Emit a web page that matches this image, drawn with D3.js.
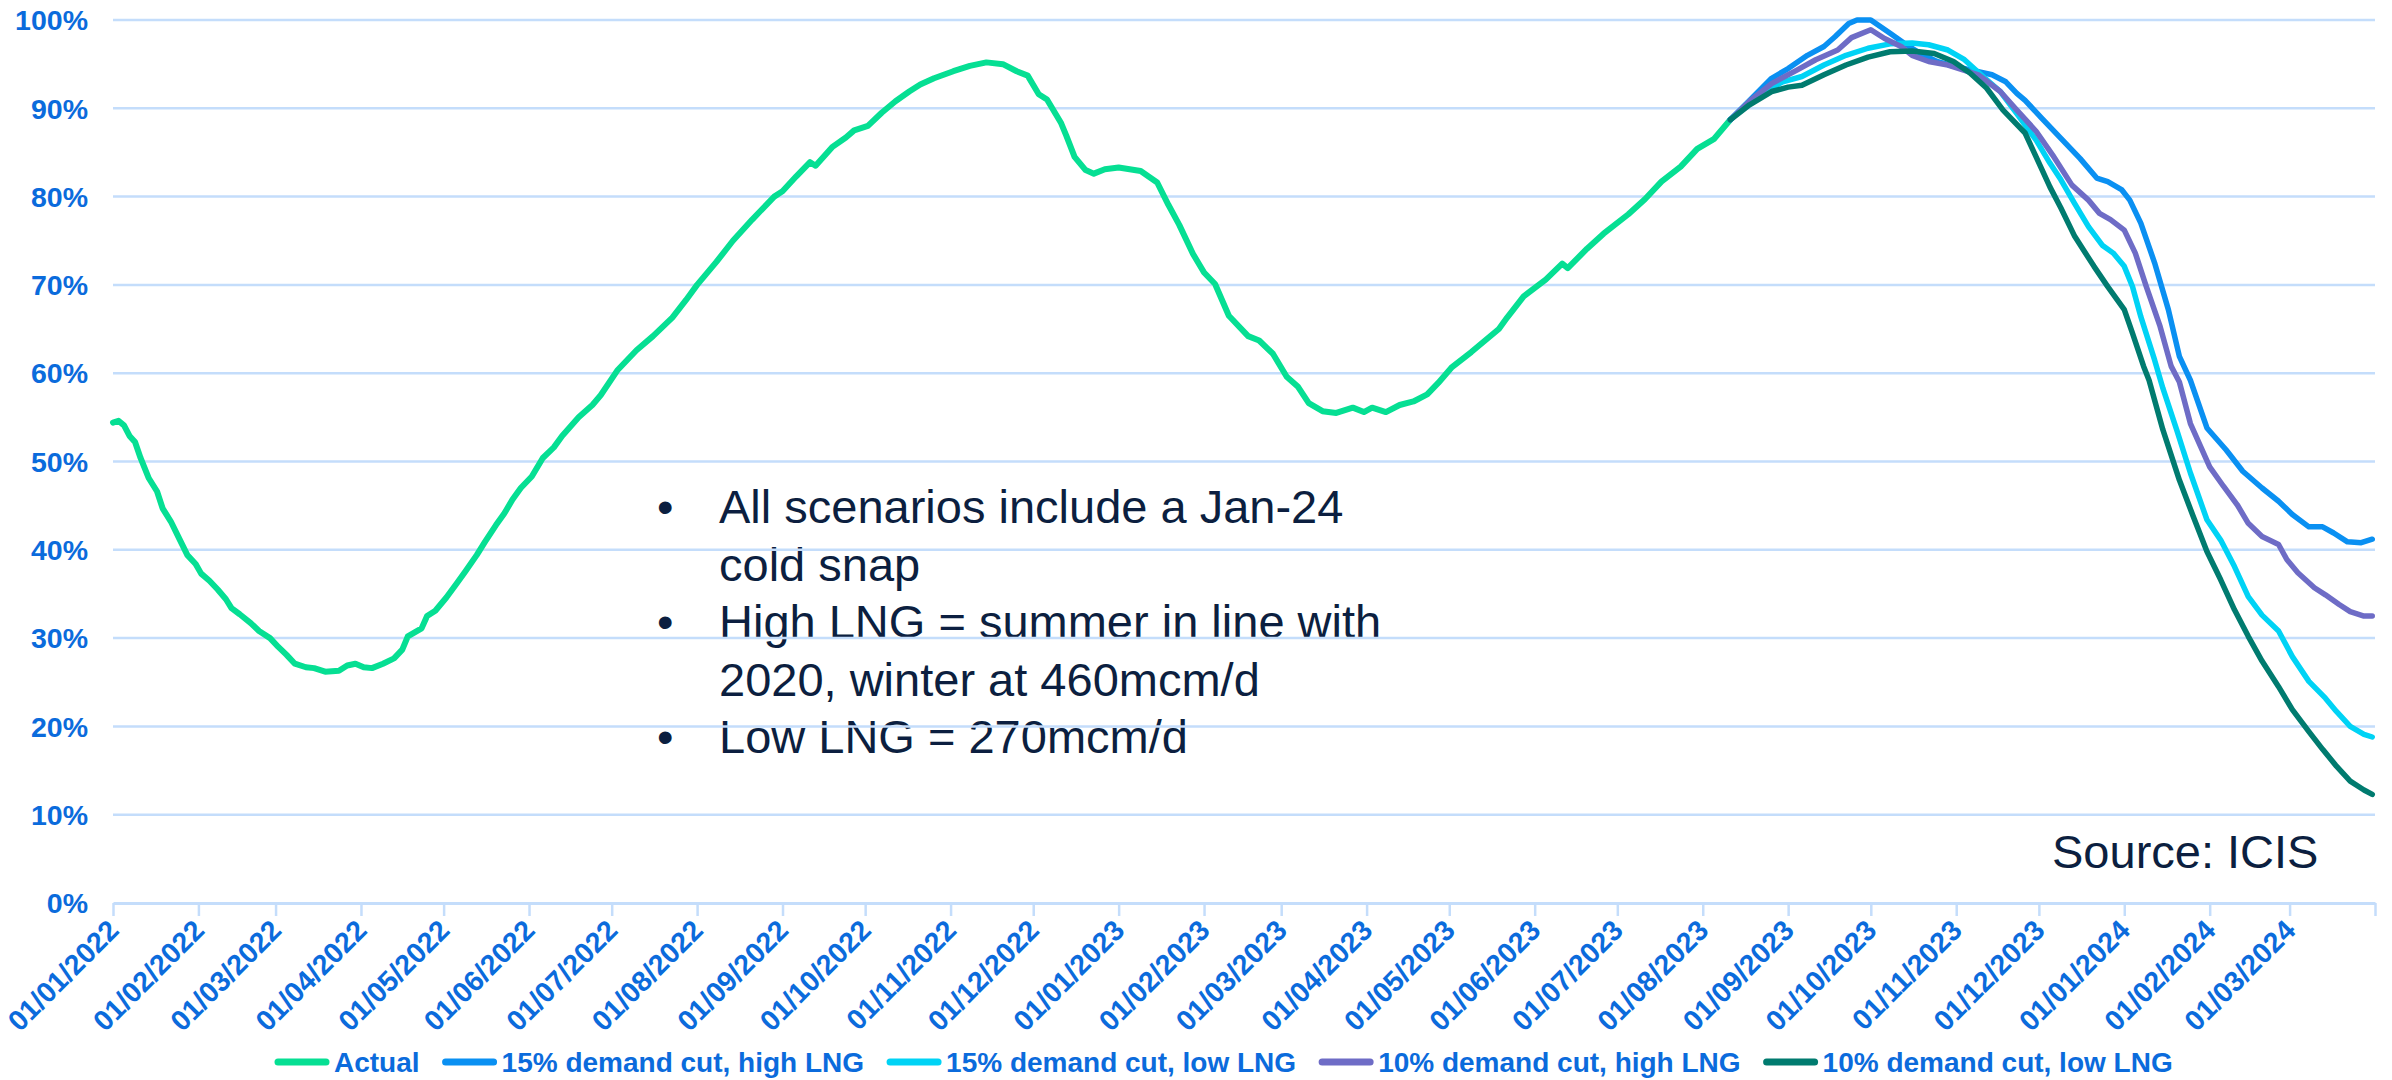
<!DOCTYPE html>
<html>
<head>
<meta charset="utf-8">
<script src="https://cdn.jsdelivr.net/npm/d3@7"></script>
<style>
  html, body { margin: 0; padding: 0; background: #ffffff; }
  svg { display: block; }
  text { font-family: "Liberation Sans", Arial, Helvetica, sans-serif; }
</style>
</head>
<body>
<svg id="chart" width="2392" height="1080"></svg>
<script>
// Storage fill level, % of capacity. Each point: [days since 01/01/2022, percent]
const actual = [
  [0,54.4],[2,54.6],[4,54.1],[6,52.9],[8,52.2],[10,50.4],[13,48.1],[16,46.6],[18,44.7],[21,43.2],
  [24,41.3],[27,39.4],[30,38.4],[32,37.3],[35,36.5],[38,35.5],[41,34.4],[43,33.4],[46,32.7],[50,31.7],
  [53,30.8],[57,30.0],[60,29.0],[63,28.1],[66,27.1],[70,26.7],[73,26.6],[77,26.2],[82,26.3],[85,26.9],
  [88,27.1],[91,26.7],[94,26.6],[98,27.1],[102,27.7],[105,28.7],[107,30.2],[112,31.1],[114,32.5],[117,33.1],
  [121,34.6],[125,36.3],[128,37.6],[132,39.4],[135,40.9],[139,42.8],[142,44.1],[145,45.7],[148,47.0],[152,48.3],
  [156,50.4],[160,51.6],[163,52.9],[169,55.0],[174,56.4],[177,57.5],[183,60.3],[190,62.6],[196,64.2],[203,66.3],
  [208,68.3],[212,70.0],[219,72.6],[225,75.0],[232,77.4],[240,80.0],[243,80.6],[248,82.3],[253,83.9],[255,83.5],
  [261,85.6],[266,86.7],[269,87.5],[274,88.0],[279,89.5],[284,90.8],[289,91.9],[293,92.7],[298,93.4],[305,94.2],
  [311,94.8],[317,95.2],[323,95.0],[328,94.2],[332,93.7],[336,91.6],[339,91.0],[344,88.4],[346,86.9],[349,84.5],
  [353,83.0],[356,82.6],[360,83.1],[365,83.3],[373,82.9],[379,81.6],[383,79.1],[387,76.8],[392,73.5],[396,71.4],
  [400,70.1],[405,66.5],[412,64.2],[416,63.7],[421,62.2],[426,59.6],[430,58.5],[434,56.6],[439,55.7],[444,55.5],
  [450,56.1],[454,55.6],[457,56.1],[462,55.6],[467,56.4],[472,56.8],[477,57.6],[481,58.9],[486,60.7],[493,62.4],
  [498,63.7],[503,65.0],[506,66.3],[512,68.7],[520,70.6],[526,72.4],[528,71.9],[535,74.1],[541,75.8],[550,78.0],
  [556,79.7],[562,81.7],[569,83.4],[575,85.4],[581,86.5],[587,88.7]
];

const cut15HighLng = [
  [587,88.7],[594,90.9],[602,93.4],[608,94.5],[615,96.0],[621,97.0],[625,98.1],[630,99.6],[633,100],[638,100],
  [645,98.5],[650,97.4],[656,96.2],[662,95.3],[669,94.7],[675,94.3],[682,93.8],[687,93.0],[691,91.7],[694,90.9],
  [700,88.9],[707,86.6],[714,84.3],[720,82.1],[724,81.7],[729,80.8],[732,79.6],[736,77.0],[741,72.5],[746,67.2],
  [750,61.9],[754,59.2],[760,53.8],[767,51.3],[773,48.9],[780,47.0],[786,45.5],[791,44.0],[797,42.6],[802,42.6],
  [806,41.9],[811,40.9],[816,40.8],[820,41.2]
];

const cut15LowLng = [
  [587,88.7],[594,90.8],[602,92.3],[606,93.0],[613,93.6],[621,94.9],[629,96.0],[637,96.8],[645,97.3],[653,97.4],
  [659,97.2],[666,96.6],[672,95.5],[678,93.8],[685,91.9],[691,89.4],[698,86.4],[703,83.8],[707,81.9],[712,79.2],
  [717,76.6],[722,74.5],[726,73.6],[730,72.1],[733,69.8],[736,66.4],[741,61.5],[744,58.3],[749,53.6],[754,48.7],
  [760,43.4],[765,41.1],[770,38.1],[775,34.7],[780,32.6],[786,30.8],[791,27.9],[797,25.1],[803,23.2],[807,21.7],
  [812,20.0],[817,19.1],[820,18.8]
];

const cut10HighLng = [
  [587,88.7],[594,90.8],[602,92.8],[611,94.3],[618,95.5],[626,96.6],[631,98.0],[638,98.9],[643,97.9],[649,97.0],
  [653,96.0],[659,95.3],[666,94.9],[672,94.3],[677,93.8],[685,91.9],[691,89.8],[698,87.4],[704,84.7],[711,81.3],
  [717,79.6],[721,78.1],[725,77.4],[730,76.2],[734,73.6],[738,69.8],[743,65.3],[747,60.8],[750,59.0],[754,54.3],
  [761,49.4],[766,47.2],[771,45.1],[775,43.0],[780,41.5],[786,40.6],[789,38.9],[793,37.4],[799,35.7],[803,34.9],
  [808,33.8],[812,33.0],[817,32.5],[820,32.5]
];

const cut10LowLng = [
  [587,88.7],[594,90.4],[602,91.9],[608,92.4],[613,92.6],[621,93.8],[629,94.9],[637,95.8],[645,96.4],[653,96.5],
  [661,96.2],[668,95.3],[674,94.0],[680,92.3],[686,89.8],[694,87.2],[698,84.5],[703,81.1],[707,78.7],[712,75.5],
  [719,72.1],[724,69.8],[730,67.2],[733,64.5],[737,60.8],[739,59.2],[744,53.6],[750,47.9],[755,43.8],[760,39.8],
  [765,36.6],[770,33.2],[775,30.2],[780,27.4],[786,24.5],[791,21.9],[797,19.4],[802,17.4],[807,15.5],[812,13.8],
  [817,12.8],[820,12.3]
];

const seriesNames = [
  "Actual",
  "15% demand cut, high LNG",
  "15% demand cut, low LNG",
  "10% demand cut, high LNG",
  "10% demand cut, low LNG"
];
const seriesData = [actual, cut15HighLng, cut15LowLng, cut10HighLng, cut10LowLng];
const seriesColors = ["#06df93", "#0a90f2", "#00d3f5", "#6e6cc6", "#007b6f"];

const yTicks = [0, 10, 20, 30, 40, 50, 60, 70, 80, 90, 100];

const notes = [
  ["All scenarios include a Jan-24", "cold snap"],
  ["High LNG = summer in line with", "2020, winter at 460mcm/d"],
  ["Low LNG = 270mcm/d"]
];
const sourceNote = "Source: ICIS";

// ---------------------------------------------------------------
const svg = d3.select("#chart");
const plot = { left: 113, right: 2375, top: 20, bottom: 903 };

const startDate = new Date(Date.UTC(2022, 0, 1));
const endDate = new Date(Date.UTC(2024, 3, 1));
const toDate = d => d3.utcDay.offset(startDate, d);

const x = d3.scaleUtc().domain([startDate, endDate]).range([plot.left, plot.right]);
const y = d3.scaleLinear().domain([0, 100]).range([plot.bottom, plot.top]);

const axisBlue = "#0b6bdc";
const gridBlue = "#c4ddfb";
const navy = "#0c1f40";

// annotation block sits underneath the gridlines
const noteG = svg.append("g").attr("class", "notes");
const noteFont = 47, lineStep = 57.5, noteX = 719, bulletX = 657;
let row = 0;
notes.forEach(item => {
  item.forEach((line, i) => {
    const by = 523 + row * lineStep;
    if (i === 0) {
      noteG.append("text").attr("x", bulletX).attr("y", by)
        .attr("font-size", noteFont).attr("fill", navy).text("\u2022");
    }
    noteG.append("text").attr("x", noteX).attr("y", by)
      .attr("font-size", noteFont).attr("fill", navy).text(line);
    row++;
  });
});

// horizontal gridlines
svg.append("g").attr("class", "grid")
  .selectAll("line")
  .data(yTicks.filter(v => v > 0))
  .join("line")
  .attr("x1", plot.left).attr("x2", plot.right)
  .attr("y1", d => y(d)).attr("y2", d => y(d))
  .attr("stroke", gridBlue).attr("stroke-width", 2.5);

// y labels
svg.append("g").attr("class", "y-labels")
  .selectAll("text")
  .data(yTicks)
  .join("text")
  .attr("x", 88).attr("y", d => y(d)).attr("dy", "0.36em")
  .attr("text-anchor", "end")
  .attr("font-size", 28.5).attr("font-weight", "bold")
  .attr("fill", axisBlue)
  .text(d => d + "%");

// x axis with a tick on every month start
const monthTicks = d3.utcMonth.range(startDate, d3.utcDay.offset(endDate, 1));
const fmt = d3.utcFormat("%d/%m/%Y");
const xAxis = d3.axisBottom(x)
  .tickValues(monthTicks)
  .tickSize(13)
  .tickSizeOuter(0)
  .tickFormat(d => (+d === +endDate ? "" : fmt(d)));

const gx = svg.append("g").attr("transform", `translate(0,${plot.bottom})`).call(xAxis);
gx.select(".domain").attr("stroke", gridBlue).attr("stroke-width", 3);
gx.selectAll(".tick line").attr("stroke", gridBlue).attr("stroke-width", 2.5);
gx.selectAll(".tick text")
  .attr("fill", axisBlue)
  .attr("font-size", 28.5)
  .attr("font-weight", "bold")
  .attr("font-family", "'Liberation Sans', Arial, sans-serif")
  .attr("text-anchor", "end")
  .attr("dy", null)
  .attr("y", null)
  .attr("transform", "translate(7,29) rotate(-45)");

// series lines
const line = d3.line()
  .x(d => x(toDate(d[0])))
  .y(d => y(d[1]))
  .curve(d3.curveLinear);

svg.append("g").attr("class", "series")
  .selectAll("path")
  .data(seriesData)
  .join("path")
  .attr("d", d => line(d))
  .attr("fill", "none")
  .attr("stroke", (d, i) => seriesColors[i])
  .attr("stroke-width", (d, i) => (i === 0 ? 6 : 5.5))
  .attr("stroke-linejoin", "round")
  .attr("stroke-linecap", "round");

// source note
svg.append("text")
  .attr("x", 2052).attr("y", 868)
  .attr("font-size", 47).attr("fill", navy)
  .text(sourceNote);

// legend
const legend = svg.append("g").attr("class", "legend").attr("transform", "translate(275,1062)");
let lx = 0;
seriesNames.forEach((name, i) => {
  const g = legend.append("g").attr("transform", `translate(${lx},0)`);
  g.append("line")
    .attr("x1", 3).attr("x2", 51).attr("y1", 0).attr("y2", 0)
    .attr("stroke", seriesColors[i]).attr("stroke-width", 7).attr("stroke-linecap", "round");
  const t = g.append("text")
    .attr("x", 59).attr("y", 0).attr("dy", "0.35em")
    .attr("font-size", 28).attr("font-weight", "bold")
    .attr("fill", axisBlue).text(name);
  lx += 59 + t.node().getComputedTextLength() + 23;
});
</script>
</body>
</html>
